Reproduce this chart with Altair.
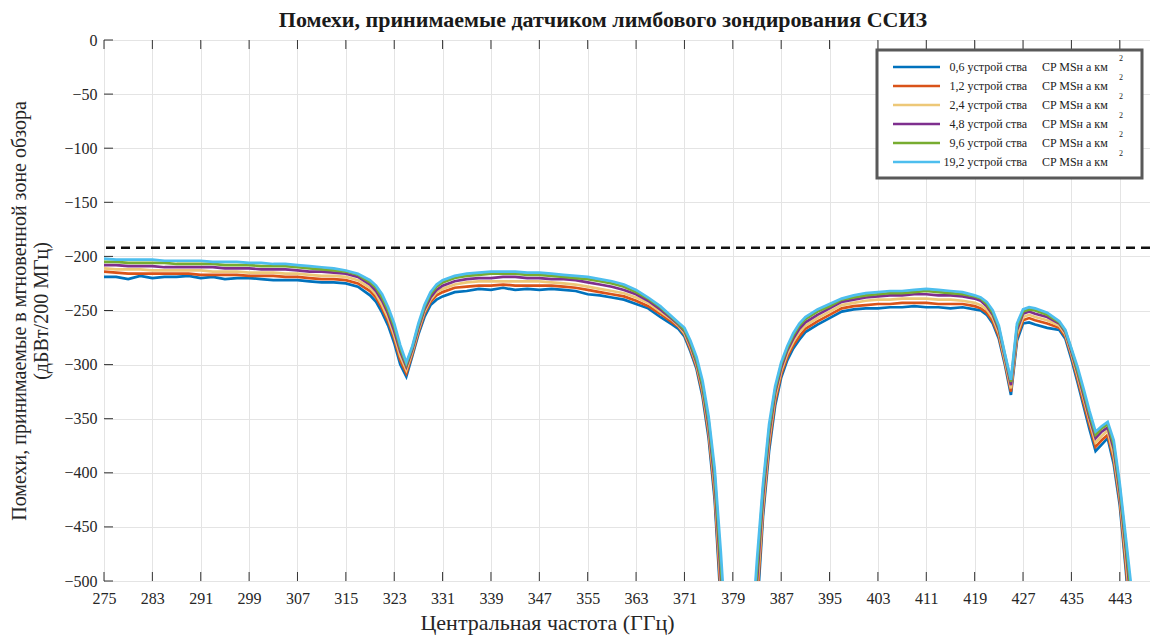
import altair as alt
import pandas as pd

# ---------------- data ----------------
FREQ = [275, 277, 279, 281, 283, 285, 287, 289, 291, 293, 295, 297, 299, 301, 303, 305, 307, 309, 311, 313, 315, 317,
        319, 320, 321, 322, 323, 324, 325, 326, 327, 328, 329, 330, 331,
        333, 335, 337, 339, 341, 343, 345, 347, 349, 351, 353, 355, 357, 359, 361, 363, 365, 367, 369,
        370, 371, 372, 373, 374, 375, 376, 377, 378,
        382, 383, 384, 385, 386, 387, 388, 389, 390, 391,
        393, 395, 397, 399, 401, 403, 405, 407, 409, 411, 413, 415, 417, 419,
        420, 421, 422, 423, 424, 425, 426, 427, 428, 429,
        431, 433,
        434, 435, 436, 437, 438, 439, 440, 441, 442, 443, 444, 445, 446]

S_06 = [-219, -219, -221, -218, -220, -219, -219, -218, -220, -219, -221, -220, -220, -221, -222, -222, -222, -223, -224, -224, -225, -228,
        -236, -242, -252, -264, -280, -300, -311, -292, -272, -256, -245, -240, -237,
        -233, -232, -230, -231, -229, -231, -230, -231, -230, -231, -232, -235, -236, -238, -240, -244, -248, -256, -263,
        -267, -274, -288, -304, -330, -368, -425, -520, -600,
        -600, -530, -440, -380, -338, -312, -296, -285, -277, -270,
        -263, -257, -251, -249, -248, -248, -247, -247, -246, -247, -247, -248, -247, -249,
        -250, -254, -262, -276, -300, -328, -278, -262, -261, -263,
        -266, -268,
        -276, -295, -316, -338, -360, -380, -374, -368, -392, -430, -490, -560, -600]

S_12 = [-214, -215, -216, -216, -216, -216, -216, -216, -217, -217, -217, -217, -218, -218, -218, -219, -219, -220, -221, -221, -222, -225,
        -232, -238, -248, -260, -276, -296, -308, -290, -270, -253, -242, -236, -233,
        -229, -228, -227, -227, -226, -227, -227, -227, -227, -228, -229, -231, -233, -235, -237, -241, -246, -253, -261,
        -265, -272, -286, -302, -327, -364, -420, -512, -600,
        -600, -520, -435, -375, -334, -309, -293, -282, -274, -267,
        -260, -254, -248, -246, -245, -244, -244, -243, -243, -243, -244, -244, -244, -246,
        -248, -252, -260, -274, -298, -325, -275, -259, -257, -259,
        -262, -266,
        -274, -292, -313, -335, -356, -376, -370, -365, -388, -426, -485, -550, -600]

S_24 = [-211, -212, -212, -212, -213, -213, -213, -213, -213, -214, -214, -214, -215, -215, -215, -216, -216, -217, -218, -218, -219, -222,
        -229, -235, -245, -257, -273, -292, -305, -288, -268, -251, -240, -233, -230,
        -226, -224, -223, -223, -223, -223, -223, -223, -224, -225, -226, -228, -230, -232, -234, -238, -243, -251, -259,
        -264, -271, -284, -300, -324, -360, -414, -503, -590,
        -590, -510, -430, -370, -330, -306, -290, -279, -270, -264,
        -257, -251, -245, -243, -241, -240, -240, -239, -239, -239, -240, -240, -241, -243,
        -245, -249, -257, -271, -296, -322, -272, -256, -254, -256,
        -259, -264,
        -272, -290, -310, -331, -352, -372, -366, -361, -384, -422, -478, -540, -600]

S_48 = [-208, -208, -209, -209, -209, -210, -210, -210, -210, -210, -211, -211, -211, -212, -212, -212, -213, -214, -214, -215, -216, -219,
        -226, -232, -241, -253, -269, -288, -302, -286, -266, -249, -238, -231, -227,
        -223, -221, -220, -220, -219, -219, -220, -220, -221, -221, -222, -224, -226, -228, -231, -235, -241, -249, -258,
        -263, -269, -282, -298, -321, -356, -408, -494, -580,
        -580, -500, -422, -365, -326, -303, -287, -276, -267, -261,
        -254, -248, -242, -240, -238, -237, -236, -236, -235, -235, -236, -236, -237, -239,
        -241, -246, -254, -268, -293, -319, -268, -253, -251, -253,
        -256, -262,
        -270, -288, -307, -328, -349, -368, -362, -358, -378, -418, -470, -530, -600]

S_96 = [-205, -205, -206, -206, -206, -206, -207, -207, -207, -207, -208, -208, -208, -209, -209, -209, -210, -211, -212, -213, -214, -217,
        -224, -229, -238, -250, -265, -285, -300, -284, -264, -247, -235, -228, -224,
        -220, -218, -217, -216, -216, -216, -217, -217, -218, -219, -220, -221, -223, -225, -228, -233, -239, -247, -257,
        -262, -268, -280, -296, -319, -352, -402, -484, -570,
        -570, -490, -415, -360, -323, -300, -285, -273, -264, -258,
        -251, -246, -240, -238, -236, -235, -234, -234, -233, -232, -233, -234, -235, -237,
        -239, -244, -252, -266, -291, -316, -265, -251, -249, -250,
        -254, -261,
        -269, -286, -305, -325, -346, -365, -359, -355, -374, -414, -465, -520, -600]

S_192 = [-202, -203, -203, -203, -203, -204, -204, -204, -204, -205, -205, -205, -206, -206, -207, -207, -208, -209, -210, -211, -213, -216,
         -222, -227, -235, -247, -262, -282, -298, -283, -262, -245, -233, -226, -222,
         -218, -216, -215, -214, -214, -214, -215, -215, -216, -217, -218, -219, -221, -223, -226, -231, -238, -246, -256,
         -261, -266, -278, -293, -315, -348, -396, -472, -560,
         -560, -480, -410, -355, -320, -298, -283, -271, -262, -256,
         -249, -244, -239, -236, -234, -233, -232, -232, -231, -230, -231, -232, -233, -236,
         -238, -242, -250, -264, -290, -314, -262, -249, -247, -248,
         -252, -260,
         -268, -285, -302, -322, -343, -362, -357, -353, -370, -410, -460, -510, -600]

DENSITIES = ["0,6", "1,2", "2,4", "4,8", "9,6", "19,2"]
SERIES = [S_06, S_12, S_24, S_48, S_96, S_192]
COLORS = ["#0072BD", "#D95319", "#EDC878", "#7E2F8E", "#77AC30", "#4DBEEE"]

THRESHOLD = [-192]
XTICKS = [275, 283, 291, 299, 307, 315, 323, 331, 339, 347, 355, 363, 371, 379, 387, 395, 403, 411, 419, 427, 435, 443]
YTICKS = [-500, -450, -400, -350, -300, -250, -200, -150, -100, -50, 0]

TITLE = "Помехи, принимаемые датчиком лимбового зондирования ССИЗ"
XTITLE = "Центральная частота (ГГц)"
YTITLE = ["Помехи, принимаемые в мгновенной зоне обзора", "(дБВт/200 МГц)"]
LEG_UNIT = "CP MSн а км"

FONT = "Liberation Serif"
W, H = 1046, 541

for s in SERIES:
    assert len(s) == len(FREQ), len(s)

xscale = alt.Scale(domain=[275, 448], nice=False, zero=False)
yscale = alt.Scale(domain=[-500, 0], nice=False, zero=False)

xaxis = alt.Axis(values=XTICKS, grid=True, ticks=False, domain=False, labelFont=FONT, labelFontSize=16,
                 labelColor="#262626", labelPadding=9, title=XTITLE, titleFont=FONT, titleFontSize=22,
                 titleFontWeight="normal", titleColor="#262626", titlePadding=6, titleX=443, labelFlush=False)
yaxis = alt.Axis(values=YTICKS, grid=True, ticks=False, domain=False, labelFont=FONT, labelFontSize=16,
                 labelColor="#262626", labelPadding=7, title=YTITLE, titleFont=FONT, titleFontSize=20,
                 titleFontWeight="normal", titleColor="#262626", titlePadding=12, labelFlush=False)

axes_df = pd.DataFrame({"f": [275], "v": [0]})
axes = alt.Chart(axes_df).mark_point(opacity=0).encode(
    x=alt.X("f:Q", scale=xscale, axis=xaxis),
    y=alt.Y("v:Q", scale=yscale, axis=yaxis),
)

layers = [axes]
for dens, vals, col in zip(DENSITIES, SERIES, COLORS):
    df = pd.DataFrame({"f": FREQ, "v": vals})
    layers.append(
        alt.Chart(df).mark_line(clip=True, strokeWidth=2.7, color=col).encode(
            x=alt.X("f:Q", scale=xscale),
            y=alt.Y("v:Q", scale=yscale),
            order="f:Q",
        )
    )

thr = alt.Chart(pd.DataFrame({"v": THRESHOLD})).mark_rule(
    color="#111111", strokeWidth=2.6, strokeDash=[9, 6]
).encode(y=alt.Y("v:Q", scale=yscale))
layers.append(thr)

xt = pd.DataFrame({"f": XTICKS})
yt = pd.DataFrame({"v": YTICKS})
layers.append(alt.Chart(xt).mark_rule(color="#333333", strokeWidth=1).encode(
    x=alt.X("f:Q", scale=xscale), y=alt.value(H), y2=alt.value(H - 9)))
layers.append(alt.Chart(xt).mark_rule(color="#333333", strokeWidth=1).encode(
    x=alt.X("f:Q", scale=xscale), y=alt.value(0), y2=alt.value(9)))
layers.append(alt.Chart(yt).mark_rule(color="#333333", strokeWidth=1).encode(
    y=alt.Y("v:Q", scale=yscale), x=alt.value(0), x2=alt.value(9)))

main = alt.layer(*layers)

# ---------------- legend ----------------
leg_df = pd.DataFrame({
    "row": list(range(len(DENSITIES))),
    "lab": [d + " устрой ства" for d in DENSITIES],
    "unit": [LEG_UNIT] * len(DENSITIES),
    "sup": ["2"] * len(DENSITIES),
    "col": COLORS,
})
ly = alt.Y("row:Q", scale=alt.Scale(domain=[0, 5], range=[27, 122]), axis=None)
box = alt.Chart(pd.DataFrame({"a": [0]})).mark_rect(
    fill="white", stroke="#595959", strokeWidth=3
).encode(x=alt.value(773), x2=alt.value(1038), y=alt.value(10), y2=alt.value(138))
sw = alt.Chart(leg_df).mark_rule(strokeWidth=2.7).encode(
    x=alt.value(789), x2=alt.value(836), y=ly, color=alt.Color("col:N", scale=None))
t1 = alt.Chart(leg_df).mark_text(align="right", baseline="middle", font=FONT, fontSize=12, color="#222222").encode(
    x=alt.value(923), y=ly, text="lab:N")
t2 = alt.Chart(leg_df).mark_text(align="left", baseline="middle", font=FONT, fontSize=12, color="#222222").encode(
    x=alt.value(938), y=ly, text="unit:N")
t3 = alt.Chart(leg_df).mark_text(align="left", baseline="middle", font=FONT, fontSize=8, dy=-8, color="#222222").encode(
    x=alt.value(1015), y=ly, text="sup:N")
legend = alt.layer(box, sw, t1, t2, t3)

chart = alt.layer(main, legend).resolve_scale(y="independent").properties(
    width=W, height=H,
    title=alt.TitleParams(TITLE, font=FONT, fontSize=22, fontWeight="bold", color="#1a1a1a",
                          anchor="middle", dx=-24, offset=0),
    padding={"left": 104, "top": 40, "right": 0, "bottom": 57},
    autosize=alt.AutoSizeParams(type="none"),
).configure_view(stroke="#555555", strokeWidth=1).configure_axis(gridColor="#e4e4e4", gridWidth=1)

chart.save("out.html", embed_options={"renderer": "svg", "actions": False})
